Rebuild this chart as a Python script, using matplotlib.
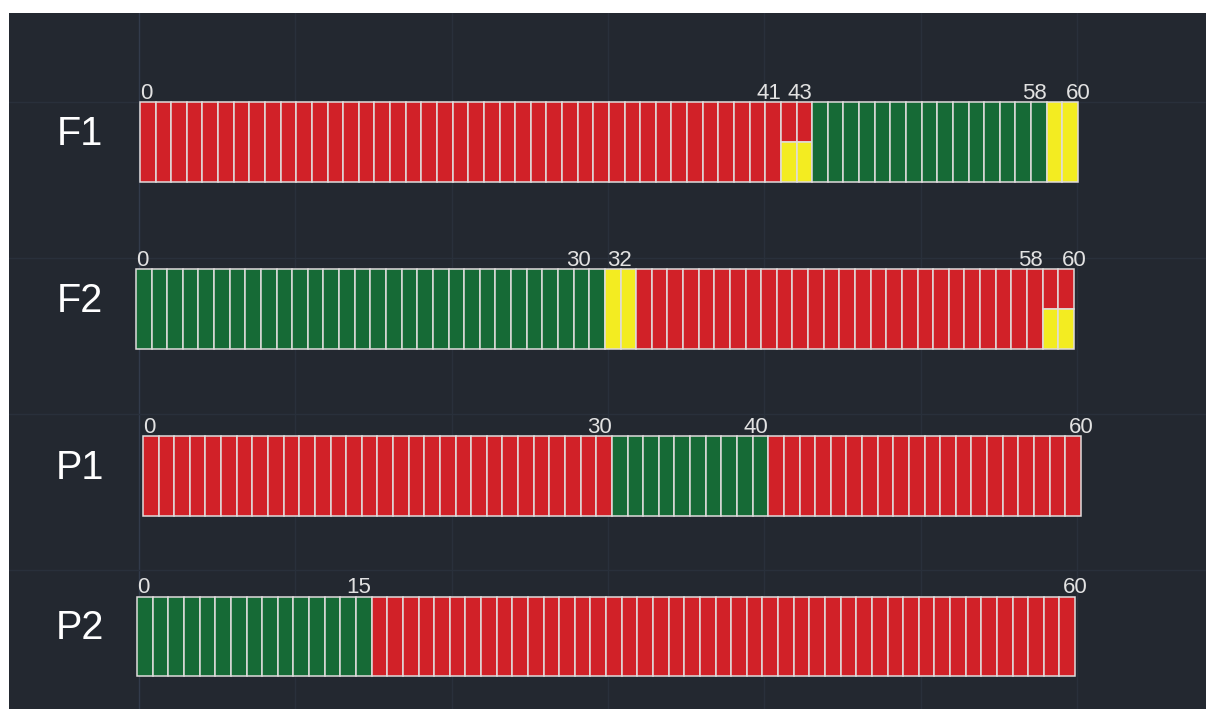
import numpy as np
import matplotlib.pyplot as plt

# ---- data ----
rows = ['F1', 'F2', 'P1', 'P2']
# segment boundaries (unit cells 0..60) and colour of top / bottom half of each segment
f1_bounds = [0, 41, 43, 58, 60]
f1_top = ['red', 'red', 'green', 'yellow']
f1_bottom = ['red', 'yellow', 'green', 'yellow']

f2_bounds = [0, 30, 32, 58, 60]
f2_top = ['green', 'yellow', 'red', 'red']
f2_bottom = ['green', 'yellow', 'red', 'yellow']

p1_bounds = [0, 30, 40, 60]
p1_top = ['red', 'green', 'red']
p1_bottom = ['red', 'green', 'red']

p2_bounds = [0, 15, 60]
p2_top = ['green', 'red']
p2_bottom = ['green', 'red']

all_bounds = [f1_bounds, f2_bounds, p1_bounds, p2_bounds]
all_top = [f1_top, f2_top, p1_top, p2_top]
all_bottom = [f1_bottom, f2_bottom, p1_bottom, p2_bottom]

# ---- style / layout ----
palette = {'red': '#d12128', 'green': '#166a36', 'yellow': '#f3ec21'}
bg = '#232830'
edge = '#e0dcdc'
row_y = [0, 1, 2, 2.96]
row_nudge = [0.06, -0.2, 0.25, -0.12]   # small horizontal offsets of each bar
bar_h = 0.475
px_x = 938 / 60.0   # pixels per cell
px_y = 167.0        # pixels per row unit

fig = plt.figure(figsize=(12.06, 7.09), dpi=100, facecolor='white')
ax = fig.add_axes([9 / 1206, 0, 1197 / 1206, 696 / 709])
ax.set_facecolor(bg)
ax.set_xlim((9 - 139) / px_x, (1206 - 139) / px_x)
ax.set_ylim((709 - 142) / px_y, (13 - 142) / px_y)

# faint square grid
for gx in np.arange(0, 61, 10):
    ax.axvline(gx, color='#29303b' if gx else '#323b4b', lw=1, zorder=0)
for gy in np.arange(-0.24, 3.3, 0.934):
    ax.axhline(gy, color='#29303b', lw=1, zorder=0)

for i, name in enumerate(rows):
    y = row_y[i]
    bounds = all_bounds[i]
    for s in range(len(bounds) - 1):
        top_c = palette[all_top[i][s]]
        bot_c = palette[all_bottom[i][s]]
        cells = np.arange(bounds[s], bounds[s + 1]) + row_nudge[i]
        if top_c == bot_c:
            ax.barh(y, 1, left=cells, height=bar_h, color=top_c,
                    edgecolor=edge, linewidth=1.1, zorder=2)
        else:
            ax.barh(y - bar_h / 4, 1, left=cells, height=bar_h / 2, color=top_c,
                    edgecolor=edge, linewidth=1.1, zorder=2)
            ax.barh(y + bar_h / 4, 1, left=cells, height=bar_h / 2, color=bot_c,
                    edgecolor=edge, linewidth=1.1, zorder=2)

    # boundary labels above the bar
    for k, b in enumerate(bounds):
        if b == 0:
            ha, dx = 'left', 0
        elif b == 60:
            ha, dx = 'center', 0
        else:
            ha = 'right'
            # F2: the 30 / 32 pair sits a bit further left
            dx = 0
            if i == 1 and bounds[k + 1] != 60:
                dx = -10 if bounds[k + 1] - b <= 2 else -3
        ax.annotate(str(b), (b + row_nudge[i], y - bar_h / 2), xytext=(dx, 2.5),
                    textcoords='offset points', ha=ha, va='baseline',
                    fontsize=16, color='#e2e2e2', family='Liberation Sans')

    ax.text(-3.8, y - 0.05, name, ha='center', va='center', fontsize=28.5,
            color='white', family='Liberation Sans')

ax.set_xticks([])
ax.set_yticks([])
for sp in ax.spines.values():
    sp.set_visible(False)

fig.savefig('out.png', dpi=100, facecolor='white')
